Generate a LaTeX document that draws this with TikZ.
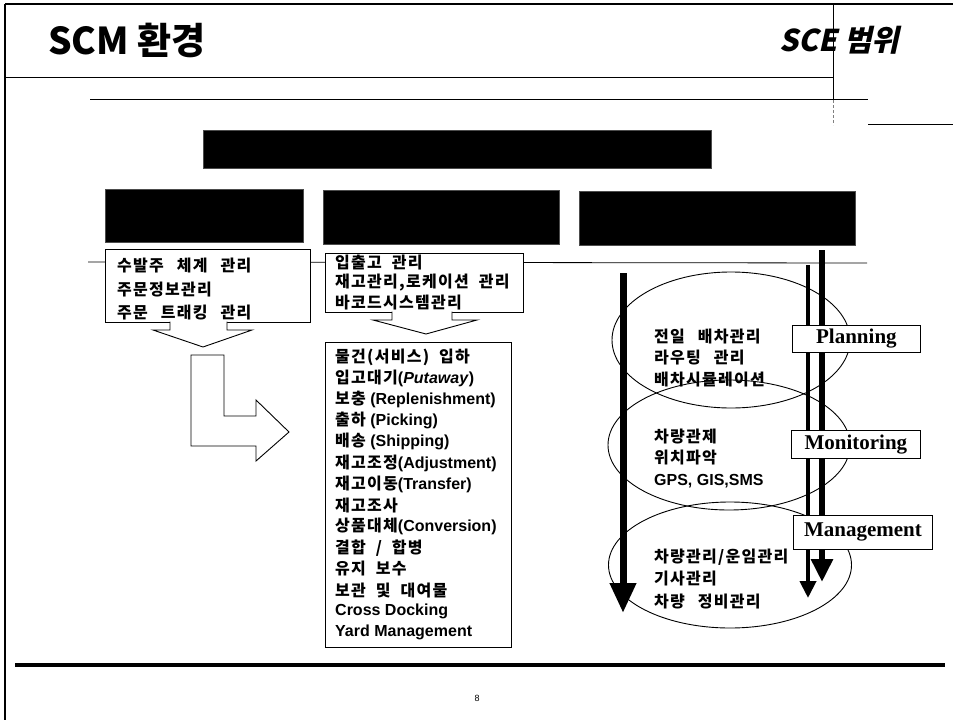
\documentclass[tikz,border=0pt]{standalone}
\usepackage{fontspec}
\setmainfont{Liberation Sans}
\newfontfamily\kr{Noto Sans CJK KR}[LetterSpace=8]
\newfontfamily\krt{Noto Sans CJK KR}
\newfontfamily\krs{Noto Sans CJK KR}[FakeSlant=0.22]
\newfontfamily\tnr{Liberation Serif}
\newfontfamily\latf{Liberation Sans}
\newcommand{\lt}[1]{{\latf\bfseries\fontsize{16}{16}\selectfont #1}}
\newcommand{\ks}{\hspace{8pt}}
\newcommand{\kss}{\hspace{5pt}}
\usetikzlibrary{arrows.meta,shapes.geometric}
\begin{document}
\begin{tikzpicture}[x=1pt,y=-1pt,
  blk/.style={fill=black,draw=black!70,line width=0.8pt},
  wbox/.style={fill=white,draw=black,line width=0.9pt},
  txt/.style={anchor=west,inner sep=0pt,font=\kr\bfseries\fontsize{16}{16}\selectfont},
  lab/.style={fill=white,draw=black,line width=0.8pt,font=\tnr\bfseries\fontsize{21}{21}\selectfont,inner sep=0pt},
  ell/.style={draw=black,line width=0.9pt},
  hol/.style={fill=white,draw=black,line width=0.9pt,line join=miter}]
\useasboundingbox (0,0) rectangle (953,720);
% frame lines
\coordinate (tl) at (5,4); \coordinate (tr) at (953,4); \coordinate (bl) at (5,720);
\draw[line width=2.5pt] (tl) -- (tr);
\draw[line width=2pt] (tl) -- (bl);
\coordinate (h1a) at (5,77); \coordinate (h1b) at (833,77);
\draw[line width=0.9pt] (h1a) -- (h1b);
\coordinate (v1a) at (833,4); \coordinate (v1b) at (833,100); \coordinate (v1c) at (833,125);
\draw[line width=0.9pt] (v1a) -- (v1b);
\draw[line width=0.5pt,densely dashed,black!50] (v1b) -- (v1c);
\coordinate (h2a) at (90,99); \coordinate (h2b) at (868,99);
\draw[line width=0.9pt] (h2a) -- (h2b);
\coordinate (h3a) at (868,124); \coordinate (h3b) at (953,124);
\draw[line width=0.9pt] (h3a) -- (h3b);
\coordinate (h4a) at (88,262); \coordinate (h4b) at (867,263);
\draw[line width=0.8pt] (h4a) -- (h4b);
\coordinate (bta) at (15,665); \coordinate (btb) at (945,665);
\draw[line width=4pt] (bta) -- (btb);
% titles
\node[anchor=west,inner sep=0pt,font=\krt\bfseries\fontsize{37}{37}\selectfont] (title) at (48,40) {SCM 환경};
\node[anchor=west,inner sep=0pt,font=\krs\bfseries\fontsize{30}{30}\selectfont] (sce) at (779,40) {SCE 범위};
\node[inner sep=0pt,font=\fontsize{9}{9}\selectfont] (pg) at (477,698) {8};
% black boxes
\node[blk,minimum width=508pt,minimum height=38pt,anchor=north west] (top) at (203,130) {};
\node[blk,minimum width=198pt,minimum height=53pt,anchor=north west] (b1) at (105,189) {};
\node[blk,minimum width=236pt,minimum height=54pt,anchor=north west] (b2) at (323,190) {};
\node[blk,minimum width=276pt,minimum height=54pt,anchor=north west] (b3) at (579,191) {};
% left white box
\node[wbox,minimum width=205pt,minimum height=73pt,anchor=north west] (w1) at (105,249) {};
\node[txt] (t11) at (117,266) {수발주 \ks 체계 \ks 관리};
\node[txt] (t12) at (117,290) {주문정보관리};
\node[txt] (t13) at (117,313) {주문 \ks 트래킹 \ks 관리};
\draw[hol] (170,321.5) -- (170,330) -- (153,330) -- (203,347) -- (252,330) -- (227,330) -- (227,321.5);
% bent arrow
\draw[hol] (191,355) -- (224,355) -- (224,416) -- (256,416) -- (256,400) -- (289,432) -- (256,461) -- (256,446) -- (191,446) -- cycle;
% middle white box
\node[wbox,minimum width=198pt,minimum height=59pt,anchor=north west] (w2) at (325,253) {};
\node[txt] (t21) at (335,263) {입출고 \kss 관리};
\node[txt] (t22) at (335,283) {재고관리,로케이션 \kss 관리};
\node[txt] (t23) at (335,303) {바코드시스템관리};
\draw[hol] (392,311.5) -- (392,320) -- (373,320) -- (426,334) -- (477,320) -- (452,320) -- (452,311.5);
% big box
\node[wbox,minimum width=186pt,minimum height=305pt,anchor=north west] (w3) at (325,342) {};
\foreach \s [count=\i from 0] in {물건(서비스) \kss 입하,입고대기\lt{(\textit{Putaway})},보충\lt{ (Replenishment)},출하\lt{ (Picking)},배송\lt{ (Shipping)},재고조정\lt{(Adjustment)},재고이동\lt{(Transfer)},재고조사,상품대체\lt{(Conversion)},결합 \kss / \kss 합병,유지 \kss 보수,보관 \kss 및 \kss 대여물,\lt{Cross Docking},\lt{Yard Management}}
  \node[txt] (m\i) at (335,357+21.2*\i) {\s};
% ellipses
\node[ell,ellipse,minimum width=238pt,minimum height=136pt] (e1) at (731,340) {};
\node[ell,ellipse,minimum width=242pt,minimum height=130pt] (e2) at (729,445) {};
\node[ell,ellipse,minimum width=243pt,minimum height=126pt] (e3) at (730,565) {};
\node[txt] (p1) at (654,337) {전일 \ks 배차관리};
\node[txt] (p2) at (654,358) {라우팅 \ks 관리};
\node[txt] (p3) at (654,380) {배차시뮬레이션};
\node[txt] (q1) at (654,437) {차량관제};
\node[txt] (q2) at (654,458) {위치파악};
\node[txt] (q3) at (654,481) {\lt{GPS, GIS,SMS}};
\node[txt] (r1) at (654,557) {차량관리/운임관리};
\node[txt] (r2) at (654,579) {기사관리};
\node[txt] (r3) at (654,602) {차량 \ks 정비관리};
% arrows
\coordinate (a1s) at (623,273); \coordinate (a1e) at (623,613);
\draw[line width=7pt,-{Triangle[width=25pt,length=30pt]}] (a1s) -- (a1e);
\coordinate (a2s) at (808,265); \coordinate (a2e) at (808,598);
\draw[line width=4pt,-{Triangle[width=16pt,length=17pt]}] (a2s) -- (a2e);
\coordinate (a3s) at (822,250); \coordinate (a3e) at (822,582);
\draw[line width=6pt,-{Triangle[width=21pt,length=23pt]}] (a3s) -- (a3e);
% labels
\node[lab,minimum width=128pt,minimum height=27pt,anchor=north west] (pl) at (792,325) {Planning};
\node[lab,minimum width=129pt,minimum height=28pt,anchor=north west] (mo) at (791,430) {Monitoring};
\node[lab,minimum width=139pt,minimum height=34pt,anchor=north west] (ma) at (793,515) {Management};
\end{tikzpicture}
\end{document}
